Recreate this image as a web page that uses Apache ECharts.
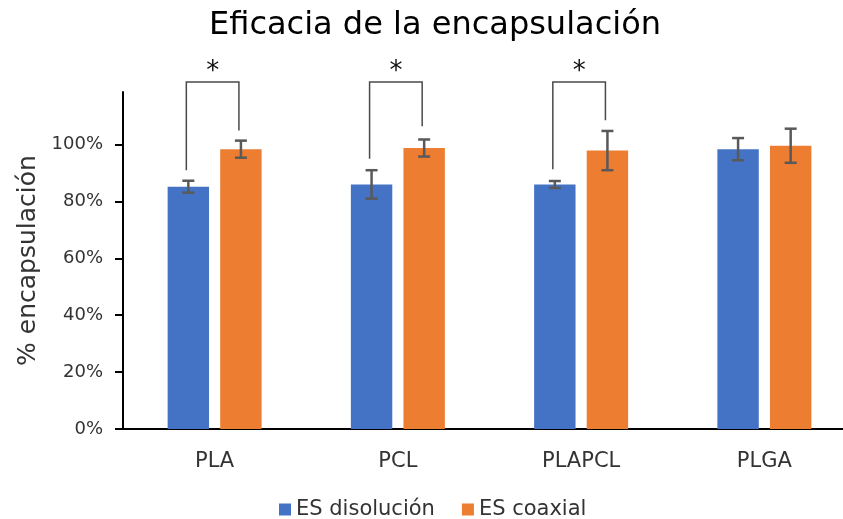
<!DOCTYPE html>
<html>
<head>
<meta charset="utf-8">
<script src="https://cdn.jsdelivr.net/npm/echarts@6/dist/echarts.min.js"></script>
<style>
    html, body { margin: 0; padding: 0; background: #fff; }
    #chart { width: 843px; height: 519px; }
</style>
</head>
<body>
<div id="chart"></div>
<script>
var categories = ['PLA', 'PCL', 'PLAPCL', 'PLGA'];
var seriesNames = ['ES disolución', 'ES coaxial'];

// % encapsulación and error bar half widths
var disolucion = [85.2, 86.0, 86.0, 98.4];
var disolucionErr = [2.1, 5.0, 1.2, 3.9];
var coaxial = [98.4, 98.8, 97.9, 99.6];
var coaxialErr = [3.0, 3.0, 6.9, 6.0];

// significance brackets (only where there is a star)
var bracketCats = [0, 1, 2];
var bracketLeft = [91, 95, 91.3];
var bracketRight = [105, 106.5, 108.6];
var bracketTop = [122, 122, 122];

var yTicks = [0, 20, 40, 60, 80, 100];

var catGap = 0.487;
var barGapRatio = 0.27;
var font = 'DejaVu Sans';

function barOffset(api, side) {
    var band = api.size([1, 0])[0];
    var barW = band * (1 - catGap) / (2 + barGapRatio);
    return side * barW * (1 + barGapRatio) / 2;
}

function errorBarItem(side) {
    return function (params, api) {
        var x = api.coord([api.value(0), 0])[0] + barOffset(api, side);
        var v = api.value(1), e = api.value(2);
        var top = api.coord([api.value(0), v + e])[1];
        var bot = api.coord([api.value(0), v - e])[1];
        var cap = 6;
        var style = { stroke: '#595959', lineWidth: 2.5 };
        return {
            type: 'group',
            children: [
                { type: 'line', shape: { x1: x, y1: top, x2: x, y2: bot }, style: style },
                { type: 'line', shape: { x1: x - cap, y1: top, x2: x + cap, y2: top }, style: style },
                { type: 'line', shape: { x1: x - cap, y1: bot, x2: x + cap, y2: bot }, style: style }
            ]
        };
    };
}

var chart = echarts.init(document.getElementById('chart'));

chart.setOption({
    animation: false,
    textStyle: { fontFamily: font },
    title: {
        text: 'Eficacia de la encapsulación',
        left: 430,
        textAlign: 'center',
        top: 5,
        textStyle: { fontFamily: font, fontSize: 32, fontWeight: 'normal', color: '#000' }
    },
    legend: {
        data: seriesNames,
        left: 274,
        top: 494,
        icon: 'rect',
        itemWidth: 12,
        itemHeight: 12,
        itemGap: 27,
        textStyle: { fontFamily: font, fontSize: 21, color: '#333' }
    },
    grid: { left: 123, right: -13, top: 92, bottom: 90, containLabel: false, outerBoundsMode: 'none' },
    xAxis: {
        type: 'category',
        data: categories,
        axisLine: { lineStyle: { color: '#000', width: 2 } },
        axisTick: { show: false },
        axisLabel: { fontFamily: font, fontSize: 21, color: '#333', margin: 22 }
    },
    yAxis: {
        type: 'value',
        min: 0,
        max: 118.5,
        interval: 20,
        name: '% encapsulación',
        nameLocation: 'middle',
        nameGap: 82,
        nameTextStyle: { fontFamily: font, fontSize: 25, color: '#333' },
        splitLine: { show: false },
        axisLine: { show: true, lineStyle: { color: '#000', width: 2 } },
        axisTick: { show: true, length: 8, customValues: yTicks, lineStyle: { color: '#000', width: 2 } },
        axisLabel: {
            fontFamily: font, fontSize: 18, color: '#333', margin: 20,
            customValues: yTicks,
            formatter: function (v) { return v + '%'; }
        }
    },
    series: [
        {
            name: seriesNames[0],
            type: 'bar',
            data: disolucion,
            barCategoryGap: (catGap * 100) + '%',
            barGap: (barGapRatio * 100) + '%',
            itemStyle: { color: '#4472C4' }
        },
        {
            name: seriesNames[1],
            type: 'bar',
            data: coaxial,
            barCategoryGap: (catGap * 100) + '%',
            barGap: (barGapRatio * 100) + '%',
            itemStyle: { color: '#ED7D31' }
        },
        {
            type: 'custom',
            renderItem: errorBarItem(-1),
            data: disolucion.map(function (v, i) { return [i, v, disolucionErr[i]]; }),
            encode: { x: 0, y: 1 },
            z: 10,
            silent: true
        },
        {
            type: 'custom',
            renderItem: errorBarItem(1),
            data: coaxial.map(function (v, i) { return [i, v, coaxialErr[i]]; }),
            encode: { x: 0, y: 1 },
            z: 10,
            silent: true
        },
        {
            type: 'custom',
            clip: false,
            silent: true,
            z: 10,
            data: bracketCats.map(function (c, i) { return [c, bracketTop[i], bracketLeft[i], bracketRight[i]]; }),
            encode: { x: 0, y: 1 },
            renderItem: function (params, api) {
                var c = api.value(0);
                var xc = api.coord([c, 0])[0];
                var xl = xc + barOffset(api, -1) - 2;
                var xr = xc + barOffset(api, 1) - 2;
                var yt = api.coord([c, api.value(1)])[1];
                var yl = api.coord([c, api.value(2)])[1];
                var yr = api.coord([c, api.value(3)])[1];
                return {
                    type: 'group',
                    children: [
                        {
                            type: 'polyline',
                            shape: { points: [[xl, yl], [xl, yt], [xr, yt], [xr, yr]] },
                            style: { stroke: '#4a4a4a', lineWidth: 1.5, fill: null }
                        },
                        {
                            type: 'text',
                            style: {
                                text: '*', x: (xl + xr) / 2, y: yt + 3,
                                align: 'center', verticalAlign: 'bottom',
                                fontFamily: font, fontSize: 26, fill: '#111'
                            }
                        }
                    ]
                };
            }
        }
    ]
});
</script>
</body>
</html>
